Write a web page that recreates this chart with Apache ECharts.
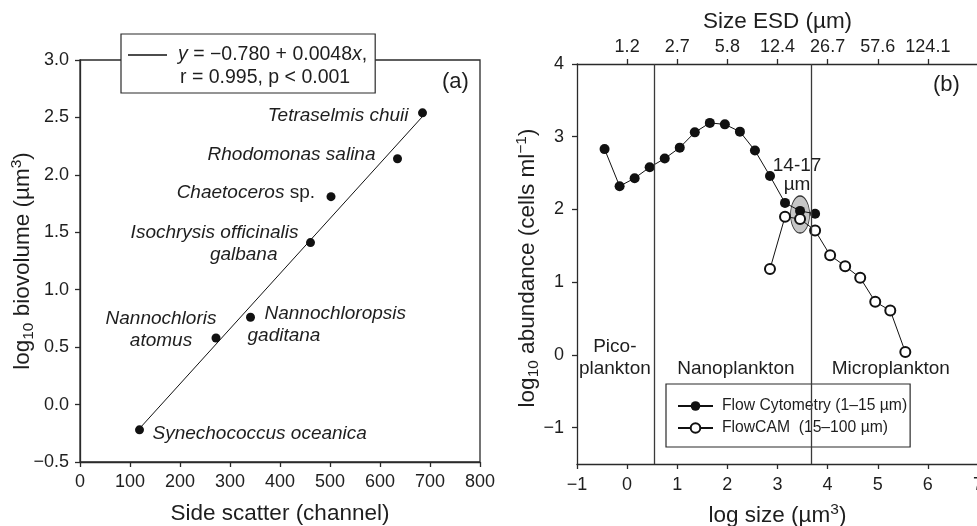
<!DOCTYPE html>
<html>
<head>
<meta charset="utf-8">
<title>Side scatter calibration and size spectrum</title>
<script src="https://cdn.jsdelivr.net/npm/echarts@6/dist/echarts.min.js"></script>
<style>
  html, body { margin: 0; padding: 0; background: #fff; }
  #chart { width: 977px; height: 526px; }
</style>
</head>
<body>
<div id="chart"></div>
<script>
// ---- Panel (a): side scatter vs. biovolume of cultured species ----
const speciesNames = [
  'Synechococcus oceanica', 'Nannochloris atomus', 'Nannochloropsis gaditana',
  'Isochrysis officinalis galbana', 'Chaetoceros sp.', 'Rhodomonas salina', 'Tetraselmis chuii'
];
const sideScatter = [119, 272, 341, 461, 502, 635, 685];
const log10Biovolume = [-0.22, 0.58, 0.76, 1.41, 1.81, 2.14, 2.54];

// Least-squares fit reported in the key: y = -0.780 + 0.0048x
const fitCoefficients = [-0.780, 0.0048];
const fitDomain = [119, 685];

// ---- Panel (b): abundance size spectrum ----
const fcmLogSize = [-0.45, -0.15, 0.15, 0.45, 0.75, 1.05, 1.35, 1.65, 1.95, 2.25, 2.55, 2.85, 3.15, 3.45, 3.75];
const fcmAbundance = [2.83, 2.32, 2.43, 2.58, 2.70, 2.85, 3.06, 3.19, 3.17, 3.07, 2.81, 2.46, 2.09, 1.98, 1.94];
const camLogSize = [2.85, 3.15, 3.45, 3.75, 4.05, 4.35, 4.65, 4.95, 5.25, 5.55];
const camAbundance = [1.18, 1.90, 1.87, 1.71, 1.37, 1.22, 1.06, 0.73, 0.61, 0.04];
const sizeClassBounds = [0.55, 3.67];          // pico/nano and nano/micro limits (log size)
const overlapWindow = [3.45, 1.93];            // 14-17 µm overlap between the two instruments
const esdTickValues = [0, 1, 2, 3, 4, 5, 6];
const esdTickLabels = ['1.2', '2.7', '5.8', '12.4', '26.7', '57.6', '124.1'];
const abundanceTicks = [-1, 0, 1, 2, 3, 4];

const FONT = '"Liberation Sans", Arial, Helvetica, sans-serif';
const INK = '#1e1e1e';
const AXIS = '#2a2a2a';
const minus = s => String(s).replace('-', '\u2212');

// label placement for each species name, relative to its point (px)
const speciesLabelPlacement = {
  'Synechococcus oceanica':        { text: '{i|Synechococcus oceanica}', align: 'left', dx: 13, dy: 4 },
  'Nannochloris atomus':           { text: '{c|Nannochloris}\n{c|atomus}', align: 'center', dx: -55, dy: -8 },
  'Nannochloropsis gaditana':      { text: '{k|Nannochloropsis}\n{l|gaditana}', align: 'left', dx: -3, dy: 7 },
  'Isochrysis officinalis galbana':{ text: '{r|Isochrysis officinalis}\n{g|galbana}', align: 'right', dx: -12, dy: 1.5 },
  'Chaetoceros sp.':               { text: '{i|Chaetoceros}{n| sp.}', align: 'right', dx: -16, dy: -4 },
  'Rhodomonas salina':             { text: '{i|Rhodomonas salina}', align: 'right', dx: -22, dy: -4 },
  'Tetraselmis chuii':             { text: '{i|Tetraselmis chuii}', align: 'right', dx: -14, dy: 3 }
};
const SPECIES_DOT = 9;
const sp = { fontSize: 19, lineHeight: 22, color: INK, fontFamily: FONT };
const speciesRich = {
  i: Object.assign({ fontStyle: 'italic' }, sp),
  n: Object.assign({}, sp),
  c: Object.assign({ fontStyle: 'italic', align: 'center' }, sp),
  k: Object.assign({ fontStyle: 'italic', align: 'left', padding: [0, 0, 0, 17] }, sp),
  l: Object.assign({ fontStyle: 'italic', align: 'left' }, sp),
  r: Object.assign({ fontStyle: 'italic', align: 'right' }, sp),
  g: Object.assign({ fontStyle: 'italic', align: 'right', padding: [0, 21, 0, 0] }, sp)
};

const speciesData = speciesNames.map((name, k) => {
  const p = speciesLabelPlacement[name];
  return {
    name,
    value: [sideScatter[k], log10Biovolume[k]],
    label: {
      show: true,
      formatter: p.text,
      position: [SPECIES_DOT / 2 + p.dx, SPECIES_DOT / 2 + p.dy],
      align: p.align,
      verticalAlign: 'middle',
      color: INK,
      rich: speciesRich
    }
  };
});

const fitLine = fitDomain.map(x => [x, fitCoefficients[0] + fitCoefficients[1] * x]);

// text annotations placed in the coordinates of panel (b)
const spectrumNotes = [
  { text: 'Pico-\nplankton', at: [-0.245, -0.04] },
  { text: 'Nanoplankton', at: [2.17, -0.19] },
  { text: 'Microplankton', at: [5.26, -0.19] },
  { text: '14-17\n\u00b5m', at: [3.39, 2.47], lh: 19 }
];

// rich styles for titles with sub/superscripts
const titleRich = {
  t: { fontSize: 22.5, lineHeight: 28, color: INK, fontFamily: FONT },
  s: { fontSize: 15.5, lineHeight: 15, color: INK, fontFamily: FONT, verticalAlign: 'bottom' },
  p: { fontSize: 15.5, lineHeight: 15, color: INK, fontFamily: FONT, verticalAlign: 'top' },
  gap: { fontSize: 22.5, lineHeight: 28, width: 8 }
};

const axisLineStyle = { color: AXIS, width: 1.3 };
function baseAxis(extra) {
  return Object.assign({
    type: 'value',
    nameLocation: 'middle',
    nameMoveOverlap: false,
    nameTextStyle: { fontSize: 22.5, color: INK, fontFamily: FONT, rich: titleRich },
    axisLine: { show: true, onZero: false, lineStyle: axisLineStyle },
    axisTick: { show: true, inside: false, length: 5, lineStyle: axisLineStyle },
    axisLabel: { fontSize: 18, color: INK, fontFamily: FONT, margin: 11 },
    splitLine: { show: false }
  }, extra);
}

const option = {
  animation: false,
  backgroundColor: '#ffffff',
  textStyle: { fontFamily: FONT, color: INK },
  grid: [
    { left: 80, top: 60, width: 400, height: 402, outerBoundsMode: 'none', containLabel: false,
      show: true, borderColor: AXIS, borderWidth: 1.3, backgroundColor: 'transparent' },
    { left: 577, top: 64, width: 401, height: 400, outerBoundsMode: 'none', containLabel: false }
  ],
  xAxis: [
    baseAxis({
      gridIndex: 0, min: 0, max: 800, interval: 100,
      name: 'Side scatter (channel)', nameGap: 40
    }),
    baseAxis({
      gridIndex: 1, min: -1, max: 7, interval: 1,
      name: '{t|log size (\u00b5m}{p|3}{t|)}', nameGap: 38,
      axisLabel: { fontSize: 18, color: INK, fontFamily: FONT, margin: 12, formatter: v => minus(v) }
    }),
    baseAxis({
      gridIndex: 1, position: 'top', min: -1, max: 7, interval: 1,
      name: 'Size ESD (\u00b5m)', nameGap: 31,
      axisTick: { show: true, length: 5, lineStyle: axisLineStyle, customValues: esdTickValues },
      axisLabel: {
        fontSize: 18, color: INK, fontFamily: FONT, margin: 8,
        customValues: esdTickValues,
        formatter: v => esdTickLabels[esdTickValues.indexOf(v)] || ''
      }
    })
  ],
  yAxis: [
    baseAxis({
      gridIndex: 0, min: -0.5, max: 3.0, interval: 0.5,
      name: '{t|log}{s|10}{t| biovolume (\u00b5m}{p|3}{t|)}', nameGap: 43,
      axisLabel: { fontSize: 18, color: INK, fontFamily: FONT, margin: 11, formatter: v => minus(v.toFixed(1)) }
    }),
    baseAxis({
      gridIndex: 1, min: -1.5, max: 4,
      name: '{t|log}{s|10}{t| abundance (cells ml}{p|\u22121}{t|)}{gap|}', nameGap: 35,
      axisTick: { show: true, length: 5, lineStyle: axisLineStyle, customValues: abundanceTicks },
      axisLabel: { fontSize: 18, color: INK, fontFamily: FONT, margin: 13, customValues: abundanceTicks, formatter: v => minus(v) }
    })
  ],
  legend: [
    {
      data: [{ name: 'Linear fit', icon: 'rect' }],
      left: 121, top: 34,
      orient: 'horizontal',
      selectedMode: false,
      itemWidth: 39, itemHeight: 1.4,
      padding: [10, 8, 27, 7],
      borderColor: AXIS, borderWidth: 1.2, borderRadius: 0,
      backgroundColor: '#ffffff',
      formatter: () => '{e|y} = \u22120.780 + 0.0048{e|x},',
      textStyle: {
        fontSize: 19.5, color: INK, fontFamily: FONT, lineHeight: 22, padding: [0, 0, 0, 6],
        rich: { e: { fontStyle: 'italic', fontSize: 19.5, color: INK, fontFamily: FONT } }
      }
    },
    {
      data: ['Flow Cytometry (1\u201315 \u00b5m)', 'FlowCAM  (15\u2013100 \u00b5m)'],
      left: 666, top: 384,
      orient: 'vertical',
      selectedMode: false,
      itemWidth: 35, itemHeight: 12, itemGap: 4,
      padding: [13, 3, 10, 11],
      borderColor: AXIS, borderWidth: 1.2, borderRadius: 0,
      backgroundColor: '#ffffff',
      textStyle: { fontSize: 15.7, color: INK, fontFamily: FONT, lineHeight: 18, padding: [0, 0, 0, 4] }
    }
  ],
  graphic: [
    { type: 'text', left: 180, top: 68, z: 100,
      style: { text: 'r = 0.995, p < 0.001', fontSize: 19.5, fontFamily: FONT, fill: INK } },
    { type: 'text', left: 442, top: 71, z: 100,
      style: { text: '(a)', fontSize: 22, fontFamily: FONT, fill: INK } },
    { type: 'text', left: 933, top: 74, z: 100,
      style: { text: '(b)', fontSize: 22, fontFamily: FONT, fill: INK } }
  ],
  series: [
    {
      name: 'Linear fit', type: 'line',
      xAxisIndex: 0, yAxisIndex: 0,
      data: fitLine, symbol: 'none',
      lineStyle: { color: '#111', width: 1 }, itemStyle: { color: '#111' },
      z: 2
    },
    {
      name: 'Species', type: 'scatter',
      xAxisIndex: 0, yAxisIndex: 0,
      data: speciesData, symbolSize: SPECIES_DOT,
      itemStyle: { color: '#111', opacity: 1 }, z: 3
    },
    {
      name: 'Overlap', type: 'scatter',
      xAxisIndex: 1, yAxisIndex: 1,
      data: [overlapWindow], symbol: 'circle', symbolSize: [19, 37],
      itemStyle: { color: '#c6c6c6', borderColor: '#333', borderWidth: 1, opacity: 1 },
      z: 1, silent: true
    },
    {
      name: 'Flow Cytometry (1\u201315 \u00b5m)', type: 'line',
      xAxisIndex: 1, yAxisIndex: 1,
      data: fcmLogSize.map((x, k) => [x, fcmAbundance[k]]),
      symbol: 'circle', symbolSize: 10, showSymbol: true,
      lineStyle: { color: '#111', width: 1 },
      itemStyle: { color: '#111' },
      markLine: {
        silent: true, symbol: 'none', label: { show: false },
        lineStyle: { color: '#3a3a3a', width: 1.3, type: 'solid' },
        data: sizeClassBounds.map(x => ({ xAxis: x }))
      },
      z: 3
    },
    {
      name: 'FlowCAM  (15\u2013100 \u00b5m)', type: 'line',
      xAxisIndex: 1, yAxisIndex: 1,
      data: camLogSize.map((x, k) => [x, camAbundance[k]]),
      symbol: 'emptyCircle', symbolSize: 10, showSymbol: true,
      lineStyle: { color: '#111', width: 1 },
      itemStyle: { color: '#111', borderColor: '#111', borderWidth: 1 },
      z: 4
    },
    {
      name: 'Notes', type: 'scatter',
      xAxisIndex: 1, yAxisIndex: 1,
      symbolSize: 1, itemStyle: { color: 'rgba(0,0,0,0)', opacity: 1 }, silent: true,
      data: spectrumNotes.map(n => ({
        value: n.at,
        label: {
          show: true, formatter: n.text, position: [0.5, 0.5],
          align: 'center', verticalAlign: 'middle',
          fontSize: 19, lineHeight: n.lh || 21.6, color: INK, fontFamily: FONT
        }
      })),
      z: 5
    }
  ]
};

const chart = echarts.init(document.getElementById('chart'), null, { renderer: 'canvas' });
chart.setOption(option);
</script>
</body>
</html>
